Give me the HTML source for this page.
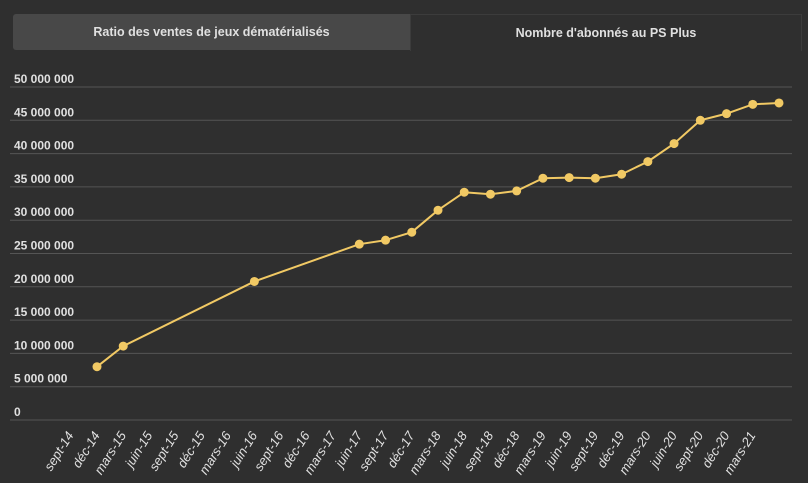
<!DOCTYPE html>
<html><head><meta charset="utf-8"><style>
body{margin:0;background:#2f2f2f;width:808px;height:483px;overflow:hidden;font-family:"Liberation Sans",sans-serif}
.tab{position:absolute;top:14px;height:36px;line-height:36px;text-align:center;font-size:12.5px;font-weight:bold;color:#e0e0e0}
</style></head><body>
<div class="tab" style="left:13px;width:397px;background:#484848;border-radius:3px 0 0 3px">Ratio des ventes de jeux dématérialisés</div>
<div class="tab" style="left:410px;width:390px;background:#2f2f2f;border:1px solid #3c3c3c;border-bottom:none;top:14px">Nombre d'abonnés au PS Plus</div>
<svg id="c" width="808" height="483" style="position:absolute;left:0;top:0"></svg>
<script>
const categories=["sept-14","déc-14","mars-15","juin-15","sept-15","déc-15","mars-16","juin-16","sept-16","déc-16","mars-17","juin-17","sept-17","déc-17","mars-18","juin-18","sept-18","déc-18","mars-19","juin-19","sept-19","déc-19","mars-20","juin-20","sept-20","déc-20","mars-21"];
const subscribers=[8.0,11.1,null,null,null,null,20.8,null,null,null,26.4,27.0,28.2,31.5,34.2,33.9,34.4,36.3,36.4,36.3,36.9,38.8,41.5,45.0,46.0,47.4,47.6];
const yTicks=[0,5,10,15,20,25,30,35,40,45,50];
const yTickLabels=["0","5 000 000","10 000 000","15 000 000","20 000 000","25 000 000","30 000 000","35 000 000","40 000 000","45 000 000","50 000 000"];
const svg=document.getElementById('c');
const NS='http://www.w3.org/2000/svg';
const y=v=>420-v*(333/50);
const x=i=>97+i*(682/26);
function mk(t,a){const e=document.createElementNS(NS,t);for(const k in a)e.setAttribute(k,a[k]);svg.appendChild(e);return e;}
yTicks.forEach((v,i)=>{
 const l=mk('line',{x1:10,x2:792,y1:y(v),y2:y(v),stroke:'#555','stroke-width':1});
 
 
 const t=mk('text',{x:14,y:y(v)-4,fill:'#e0e0e0','font-size':12,'font-weight':'bold','font-family':'Liberation Sans, sans-serif'});
 t.textContent=yTickLabels[i];
 
 
});
categories.forEach((c,i)=>{
 const ax=x(i)-31, ay=430;
 const t=mk('text',{x:ax,y:ay,fill:'#e0e0e0','font-size':13,'font-style':'italic','font-family':'Liberation Sans, sans-serif','text-anchor':'end','transform':`rotate(-58 ${ax} ${ay})`,'dominant-baseline':'hanging'});
 t.textContent=c;
 
 
});
const pts=[];subscribers.forEach((v,i)=>{if(v!=null)pts.push([x(i),y(v)]);});
const p=mk('polyline',{points:pts.map(q=>q.join(',')).join(' '),fill:'none',stroke:'#f1c964','stroke-width':2});


pts.forEach(q=>{
 const c=mk('circle',{cx:q[0],cy:q[1],r:4.5,fill:'#f1c964'});
 
 
});
</script>
</body></html>
